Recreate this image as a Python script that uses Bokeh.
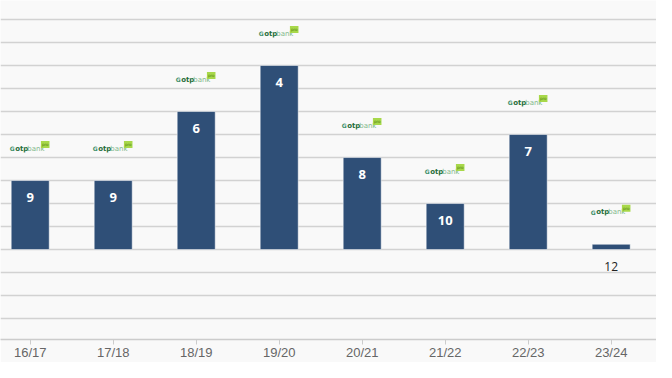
from bokeh.plotting import figure
from bokeh.models import Range1d, FixedTicker, ColumnDataSource
from bokeh.core.properties import value
from bokeh.embed import file_html
from bokeh.resources import INLINE

seasons = ["16/17", "17/18", "18/19", "19/20", "20/21", "21/22", "22/23", "23/24"]
heights = [3, 3, 6, 8, 4, 2, 5, 0.23]
labels_in = ["9", "9", "6", "4", "8", "10", "7", ""]
labels_out = ["", "", "", "", "", "", "", "12"]

xs = list(range(len(seasons)))
src = ColumnDataSource(dict(x=xs, top=heights, lin=labels_in, lout=labels_out,
                            otp=["otp"] * len(xs), bank=["bank"] * len(xs),
                            icon=["G"] * len(xs), tag=["pro"] * len(xs),
                            zero=[0] * len(xs)))

p = figure(width=656, height=362, output_backend="svg", toolbar_location=None,
           x_range=Range1d(-0.358, 7.546), y_range=Range1d(-3.91, 10.826),
           min_border_left=0, min_border_right=0, min_border_top=0, min_border_bottom=0)

p.background_fill_color = "#f9f9f9"
p.border_fill_color = "#f9f9f9"
p.outline_line_color = None

p.yaxis.visible = False
p.ygrid.ticker = FixedTicker(ticks=list(range(-3, 12)))
p.ygrid.grid_line_color = "#d2d2d2"
p.ygrid.grid_line_width = 1.5
p.xgrid.visible = False

ax = p.xaxis[0]
ax.ticker = FixedTicker(ticks=xs)
ax.major_label_overrides = {i: s for i, s in enumerate(seasons)}
ax.major_label_text_font = "Liberation Sans"
ax.major_label_text_font_size = "13px"
ax.major_label_text_color = "#666666"
ax.axis_line_color = "#cccccc"
ax.axis_line_width = 1.5
ax.major_tick_line_color = "#cccccc"
ax.major_tick_in = 0
ax.major_tick_out = 5
ax.minor_tick_line_color = None
ax.major_label_standoff = 0

p.vbar(x="x", top="top", bottom=0, width=0.458, source=src,
       fill_color="#2f4f77", line_color="#ffffff", line_width=0.5)

p.text(x="x", y="top", text="lin", source=src, y_offset=17,
       text_align="center", text_baseline="middle", text_color="white",
       text_font=value("Open Sans"), text_font_style="bold", text_font_size="13px")

p.text(x="x", y="zero", text="lout", source=src, y_offset=17,
       text_align="center", text_baseline="middle", text_color="#222222",
       text_font=value("Open Sans"), text_font_size="12px")

# otpbank logo marks
p.text(x="x", y="top", text="icon", source=src, x_offset=-18, y_offset=-32,
       text_align="center", text_baseline="middle", text_color="#3f8f6a",
       text_font=value("DejaVu Sans"), text_font_style="bold", text_font_size="6px")
p.text(x="x", y="top", text="otp", source=src, x_offset=-15, y_offset=-32,
       text_align="left", text_baseline="middle", text_color="#1f6e3a",
       text_font=value("DejaVu Sans"), text_font_style="bold", text_font_size="7px")
p.text(x="x", y="top", text="bank", source=src, x_offset=-3, y_offset=-32,
       text_align="left", text_baseline="middle", text_color="#7fb88a",
       text_font=value("DejaVu Sans"), text_font_size="7px")
p.text(x="x", y="top", text="tag", source=src, x_offset=15, y_offset=-36,
       text_align="center", text_baseline="middle", text_color="#4a7a10",
       background_fill_color="#a8d84a", text_font=value("DejaVu Sans"),
       text_font_size="4px", padding=1)

open("out.html", "w").write(file_html(p, INLINE))
